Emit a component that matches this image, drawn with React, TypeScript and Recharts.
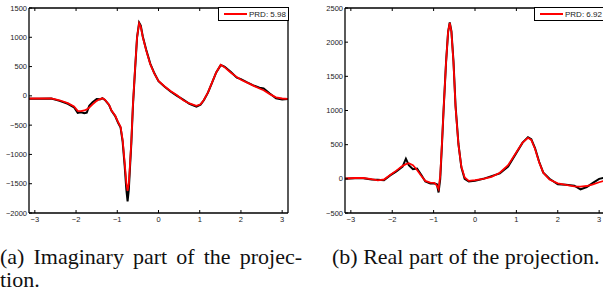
import React from 'react';
import { LineChart, Line, XAxis, YAxis, Legend } from 'recharts';

// imaginary part (left panel)
const imagX = [-3.14, -2.9, -2.6, -2.4, -2.2, -2.05, -1.96, -1.88, -1.8, -1.74, -1.68, -1.6, -1.5, -1.42, -1.36, -1.3, -1.2, -1.14, -1.05, -0.98, -0.92, -0.87, -0.82, -0.78, -0.75, -0.72, -0.69, -0.66, -0.62, -0.57, -0.52, -0.47, -0.43, -0.38, -0.3, -0.2, -0.1, 0, 0.15, 0.3, 0.45, 0.6, 0.75, 0.92, 1.02, 1.1, 1.2, 1.3, 1.4, 1.51, 1.6, 1.75, 1.9, 2.0, 2.15, 2.3, 2.45, 2.55, 2.7, 2.85, 3.0, 3.14];
const imagOrig = [-50, -48, -45, -85, -135, -195, -290, -280, -295, -285, -170, -110, -55, -60, -40, -70, -155, -255, -345, -460, -540, -780, -1200, -1600, -1800, -1600, -1200, -820, -170, 430, 1000, 1250, 1200, 1010, 790, 550, 385, 250, 155, 70, 0, -65, -135, -185, -150, -75, 55, 225, 400, 525, 500, 410, 310, 285, 230, 180, 140, 125, 40, -40, -60, -55];
const imagRec = [-45, -45, -42, -75, -125, -180, -255, -262, -250, -232, -200, -145, -85, -55, -42, -65, -150, -250, -340, -450, -530, -750, -1150, -1480, -1620, -1500, -1150, -800, -150, 450, 1000, 1240, 1180, 1000, 780, 540, 380, 255, 160, 80, 10, -75, -130, -170, -145, -70, 60, 230, 400, 530, 490, 400, 320, 275, 225, 175, 125, 95, 30, -25, -45, -50];

// real part (right panel)
const realX = [-3.14, -2.9, -2.7, -2.5, -2.35, -2.2, -2.05, -1.9, -1.75, -1.67, -1.6, -1.5, -1.4, -1.3, -1.2, -1.08, -0.98, -0.92, -0.88, -0.84, -0.8, -0.76, -0.7, -0.65, -0.61, -0.57, -0.52, -0.47, -0.4, -0.33, -0.25, -0.15, 0, 0.2, 0.4, 0.6, 0.8, 1.0, 1.15, 1.28, 1.36, 1.45, 1.55, 1.65, 1.8, 2.0, 2.2, 2.4, 2.55, 2.7, 2.85, 3.0, 3.14];
const realOrig = [0, 10, 10, -10, -15, -20, 50, 110, 180, 295, 200, 140, 150, 60, -40, -70, -70, -80, -200, 0, 480, 1000, 1700, 2150, 2290, 2160, 1720, 1070, 510, 170, 0, -40, -30, 0, 40, 80, 180, 380, 530, 610, 580, 450, 250, 90, 0, -80, -85, -100, -155, -120, -60, 0, 20];
const realRec = [5, 12, 12, -5, -22, -10, 55, 120, 190, 215, 230, 200, 130, 45, -30, -55, -60, -100, -150, 50, 500, 1000, 1700, 2150, 2280, 2150, 1700, 1050, 500, 180, 20, -30, -20, 0, 30, 90, 200, 390, 530, 600, 570, 440, 240, 90, -10, -65, -90, -110, -115, -105, -80, -50, -25];

const xTicks = [-3, -2, -1, 0, 1, 2, 3];
const imagTicks = [-2000, -1500, -1000, -500, 0, 500, 1000, 1500];
const realTicks = [-500, 0, 500, 1000, 1500, 2000, 2500];

const tickFont = '"Liberation Sans", Arial, sans-serif';
const fmt = (v: number) => (v < 0 ? `\u2212${-v}` : `${v}`);

const BottomTick = ({ x, y, payload }: any) => (
  <g>
    <line x1={x} y1={y} x2={x} y2={y - 3} stroke="#000" />
    <text x={x} y={y + 9} textAnchor="middle" fontSize={7.5} fontFamily={tickFont} fill="#222">
      {fmt(payload.value)}
    </text>
  </g>
);
const TopTick = ({ x, y }: any) => <line x1={x} y1={y} x2={x} y2={y + 3} stroke="#000" />;
const LeftTick = ({ x, y, payload }: any) => (
  <g>
    <line x1={x} y1={y} x2={x + 3} y2={y} stroke="#000" />
    <text x={x - 2} y={y} dy="0.35em" textAnchor="end" fontSize={7.5} fontFamily={tickFont} fill="#222">
      {fmt(payload.value)}
    </text>
  </g>
);
const RightTick = ({ x, y }: any) => <line x1={x} y1={y} x2={x - 3} y2={y} stroke="#000" />;

const LegendBox = ({ payload }: any) => (
  <div
    style={{
      height: 14,
      border: '1.3px solid #000',
      background: '#fff',
      boxSizing: 'border-box',
      display: 'flex',
      alignItems: 'center',
      fontFamily: tickFont,
      fontSize: 8,
      color: '#222',
      whiteSpace: 'nowrap',
    }}
  >
    <span style={{ display: 'inline-block', width: 23, height: 2, background: '#f00', margin: '0 2px 0 5px' }} />
    {payload && payload[0] ? payload[0].value : ''}
  </div>
);

interface PanelProps {
  xs: number[];
  orig: number[];
  rec: number[];
  yTicks: number[];
  prd: string;
  width: number;
  yAxisWidth: number;
  legendLeft: number;
  legendWidth: number;
}

const axisStroke = { stroke: '#000', strokeWidth: 1.3 };

const Panel = ({ xs, orig, rec, yTicks, prd, width, yAxisWidth, legendLeft, legendWidth }: PanelProps) => {
  const data = xs.map((x, i) => ({ x, orig: orig[i], rec: rec[i] }));
  const domain = [yTicks[0], yTicks[yTicks.length - 1]];
  return (
    <LineChart width={width} height={230} data={data} margin={{ top: 7, right: 0, bottom: 0, left: 0 }}>
      <XAxis xAxisId="b" dataKey="x" type="number" domain={[-Math.PI, Math.PI]} allowDataOverflow ticks={xTicks} interval={0}
        height={17} tickSize={0} tickMargin={0} tick={<BottomTick />} axisLine={axisStroke} />
      <XAxis xAxisId="t" orientation="top" dataKey="x" type="number" domain={[-Math.PI, Math.PI]} allowDataOverflow ticks={xTicks} interval={0}
        height={1} tickSize={0} tickMargin={0} tick={<TopTick />} axisLine={axisStroke} />
      <YAxis yAxisId="l" type="number" domain={domain} ticks={yTicks} interval={0} width={yAxisWidth}
        tickSize={0} tickMargin={0} tick={<LeftTick />} axisLine={axisStroke} />
      <YAxis yAxisId="r" orientation="right" type="number" domain={domain} ticks={yTicks} interval={0} width={1}
        tickSize={0} tickMargin={0} tick={<RightTick />} axisLine={axisStroke} />
      <Legend align="center" verticalAlign="middle" layout="horizontal" content={<LegendBox />}
        wrapperStyle={{ left: legendLeft, top: 7, width: legendWidth, bottom: 'auto' }} />
      <Line xAxisId="b" yAxisId="l" type="linear" dataKey="orig" stroke="#000" strokeWidth={2} dot={false}
        legendType="none" isAnimationActive={false} />
      <Line xAxisId="b" yAxisId="l" type="linear" dataKey="rec" name={prd} stroke="#f00" strokeWidth={1.8} dot={false}
        isAnimationActive={false} />
    </LineChart>
  );
};

const captionStyle: React.CSSProperties = {
  position: 'absolute',
  fontFamily: '"Liberation Serif", "Times New Roman", serif',
  fontSize: 22,
  lineHeight: '23px',
  color: '#111',
  whiteSpace: 'nowrap',
};

export default function App() {
  return (
    <div style={{ position: 'absolute', left: 0, top: 0, width: 603, height: 294, overflow: 'hidden', background: '#fff' }}>
      <div style={{ position: 'absolute', left: 0, top: 0 }}>
        <Panel xs={imagX} orig={imagOrig} rec={imagRec} yTicks={imagTicks} prd="PRD: 5.98"
          width={289} yAxisWidth={29} legendLeft={218} legendWidth={71} />
      </div>
      <div style={{ position: 'absolute', left: 300, top: 0 }}>
        <Panel xs={realX} orig={realOrig} rec={realRec} yTicks={realTicks} prd="PRD: 6.92"
          width={306} yAxisWidth={45} legendLeft={234} legendWidth={75} />
      </div>
      <div style={{ ...captionStyle, left: 0, top: 245, width: 302, whiteSpace: 'normal' }}>
        <div style={{ textAlign: 'justify', textAlignLast: 'justify' }}>(a) Imaginary part of the projec-</div>
        <div>tion.</div>
      </div>
      <div style={{ ...captionStyle, left: 332, top: 245 }}>(b) Real part of the projection.</div>
    </div>
  );
}
